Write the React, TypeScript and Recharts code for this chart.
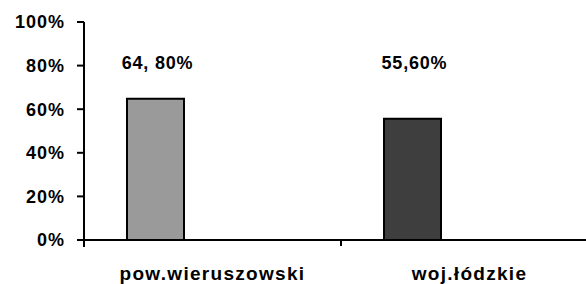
import React from 'react';
import { BarChart, Bar, XAxis, YAxis, Cell, LabelList } from 'recharts';

const categories = ['pow.wieruszowski', 'woj.łódzkie'];
const values = [64.8, 55.6];
const valueLabels = ['64, 80%', '55,60%'];
const yTicks = [0, 20, 40, 60, 80, 100];
const barColors = ['#9a9a9a', '#3e3e3e'];

const data = categories.map((name, i) => ({
  name,
  value: values[i],
  label: valueLabels[i],
}));

const FONT = '"Liberation Sans", Arial, sans-serif';
const LABEL_Y = 69;

function CategoryTick(props: any) {
  const { x, y, payload } = props;
  const half = payload.offset || 0;
  return (
    <g>
      {payload.index === 0 && (
        <line x1={x - half} y1={y} x2={x - half} y2={y + 7} stroke="#000" strokeWidth={2} />
      )}
      {payload.index === 0 && (
        <line x1={x + half} y1={y} x2={x + half} y2={y + 6} stroke="#000" strokeWidth={2} />
      )}
      <text
        x={x}
        y={y + 40}
        textAnchor="middle"
        fontFamily={FONT}
        fontWeight="bold"
        fontSize={19}
        letterSpacing={1.3}
        fill="#000"
      >
        {payload.value}
      </text>
    </g>
  );
}

function ValueLabel(props: any) {
  const { x, width, value } = props;
  return (
    <text
      x={x + width / 2 + 2}
      y={LABEL_Y}
      textAnchor="middle"
      fontFamily={FONT}
      fontWeight="bold"
      fontSize={18}
      letterSpacing={0.8}
      fill="#000"
    >
      {value}
    </text>
  );
}

export default function App() {
  return (
    <div style={{ position: 'absolute', left: 0, top: 0, width: 586, height: 284, overflow: 'hidden', background: '#fff' }}>
      <BarChart
        width={598}
        height={284}
        data={data}
        margin={{ top: 22, right: 0, bottom: 0, left: 0 }}
        barCategoryGap={43}
        barGap={0}
      >
        <YAxis
          width={84}
          domain={[0, 100]}
          ticks={yTicks}
          interval={0}
          tickFormatter={(v) => `${v}%`}
          axisLine={{ stroke: '#000', strokeWidth: 2 }}
          tickLine={{ stroke: '#000', strokeWidth: 2 }}
          tickSize={7}
          tickMargin={12}
          tick={{ fill: '#000', fontFamily: FONT, fontWeight: 'bold', fontSize: 18, letterSpacing: 1 }}
        />
        <XAxis
          dataKey="name"
          height={44}
          axisLine={{ stroke: '#000', strokeWidth: 2 }}
          tickLine={false}
          tickSize={0}
          tickMargin={0}
          interval={0}
          tick={<CategoryTick />}
        />
        <Bar dataKey="value" stroke="#000" strokeWidth={2} isAnimationActive={false}>
          {data.map((d, i) => (
            <Cell key={d.name} fill={barColors[i]} />
          ))}
          <LabelList dataKey="label" content={<ValueLabel />} />
        </Bar>
        <Bar dataKey="spacer1" isAnimationActive={false} />
        <Bar dataKey="spacer2" isAnimationActive={false} />
      </BarChart>
    </div>
  );
}
